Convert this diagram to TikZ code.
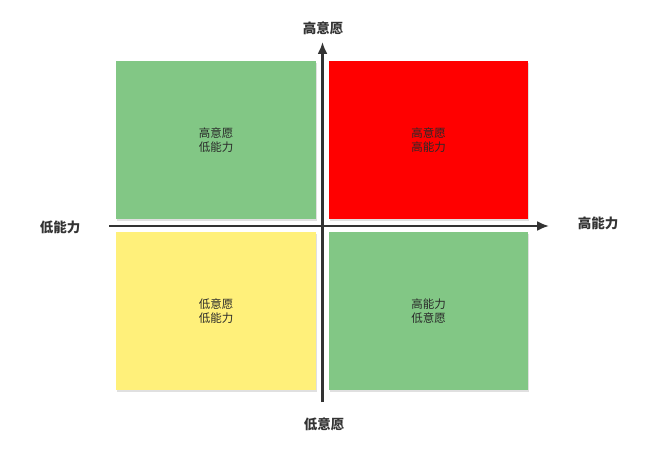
\documentclass[tikz,border=0pt]{standalone}
\usepackage{fontspec}
\newfontfamily\cjk{Noto Sans CJK SC}
\usetikzlibrary{arrows.meta}
\definecolor{qgreen}{HTML}{82C785}
\definecolor{qred}{HTML}{FF0000}
\definecolor{qyellow}{HTML}{FFF07A}
\definecolor{axisc}{HTML}{333333}
\tikzset{
  quad/.style={rectangle, anchor=north west, inner sep=0pt, minimum width=200pt, minimum height=158pt,
    align=center, font=\cjk\fontsize{11.5}{13.5}\selectfont, text=axisc!80!black},
  axislabel/.style={font=\cjk\fontsize{13.5}{16}\selectfont\bfseries, text=axisc},
  axisline/.style={draw=axisc, line width=2.2pt, -{Latex[length=12pt,width=10pt]}},
  shadowbox/.style={fill=black!12}
}
\begin{document}
\begin{tikzpicture}[x=1pt,y=-1pt]
\useasboundingbox (0,0) rectangle (660,454);
\fill[white] (0,0) rectangle (660,454);
% shadows
\fill[shadowbox] (117,63) rectangle (317,221);
\fill[shadowbox] (330,63) rectangle (529,221);
\fill[shadowbox] (117,234) rectangle (317,392);
\fill[shadowbox] (330,234) rectangle (529,392);
% quadrants
\node[quad, fill=qgreen, minimum width=200pt, minimum height=158pt] (tl) at (116,61) {高意愿\\低能力};
\node[quad, fill=qred, minimum width=199pt, minimum height=158pt] (tr) at (329,61) {高意愿\\高能力};
\node[quad, fill=qyellow, minimum width=200pt, minimum height=158pt] (bl) at (116,232) {低意愿\\低能力};
\node[quad, fill=qgreen, minimum width=199pt, minimum height=158pt] (br) at (329,232) {高能力\\低意愿};
% axis endpoints
\coordinate (hL) at (109,226);
\coordinate (hR) at (549,226);
\coordinate (vB) at (322.5,402);
\coordinate (vT) at (322.5,42);
\draw[axisline] (hL) -- (hR);
\draw[axisline] (vB) -- (vT);
% labels
\node[axislabel] (lt) at (323,28) {高意愿};
\node[axislabel] (lb) at (324,424) {低意愿};
\node[axislabel] (ll) at (60,227) {低能力};
\node[axislabel] (lr) at (598,223) {高能力};
\end{tikzpicture}
\end{document}
